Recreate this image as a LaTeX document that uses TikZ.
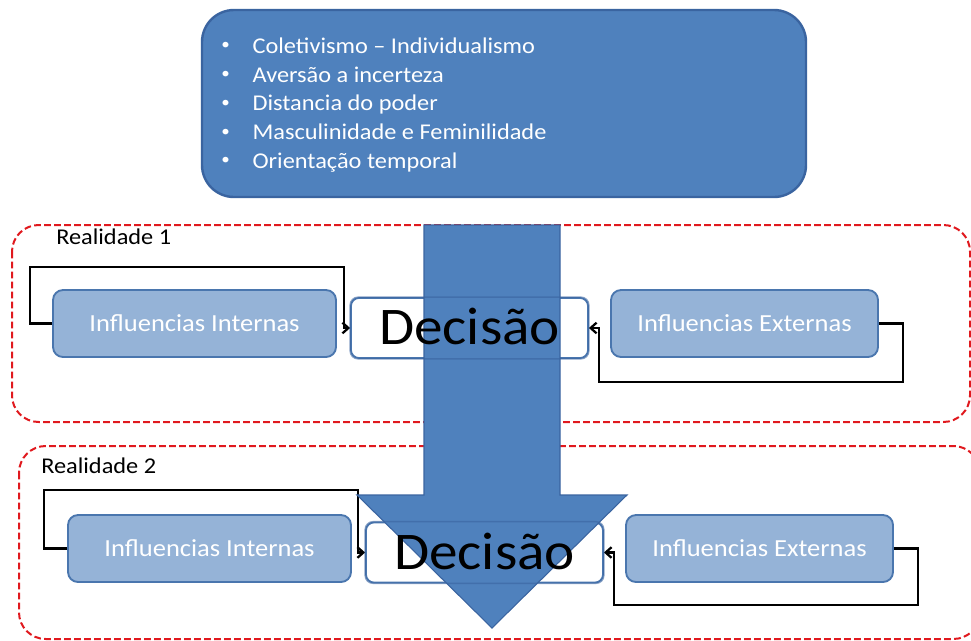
\documentclass[tikz,border=0pt]{standalone}
\usepackage{fontspec}
\setmainfont{Carlito}[FakeStretch=1.08]
\usetikzlibrary{arrows.meta}
\definecolor{topblue}{HTML}{4F81BD}
\definecolor{topedge}{HTML}{3A64A0}
\definecolor{lightblue}{HTML}{95B3D7}
\definecolor{boxedge}{HTML}{4A76AE}
\definecolor{reddash}{HTML}{E0191E}
\newcommand{\mybul}{\makebox[23.5pt][l]{\raisebox{0.15em}{\scalebox{0.7}{•}}}}
\begin{document}
\begin{tikzpicture}[x=0.75pt,y=-0.75pt,
  realbox/.style={draw=reddash, line width=1.5pt, dash pattern=on 5pt off 2.5pt, rounded corners=20pt},
  infbox/.style={draw=boxedge, fill=lightblue, line width=1.4pt, rounded corners=7.5pt,
     minimum height=50.25pt, text=white, font=\fontsize{18.4pt}{22pt}\selectfont, inner sep=0pt},
  decbox/.style={draw=boxedge, fill=white, line width=1.3pt, rounded corners=6pt,
     minimum width=177.75pt, minimum height=45pt, inner sep=0pt},
  dectext/.style={font=\fontsize{39.7pt}{44pt}\selectfont, text=black, inner sep=0pt},
  loop/.style={draw=black, line width=1.7pt, -{Straight Barb[length=4.5pt,width=8pt]}},
  bigarrow/.style={fill=topblue, draw=topedge, line width=0.8pt},
  bullet/.style={anchor=base west, text=white, inner sep=0pt, font=\fontsize{16.9pt}{20pt}\selectfont},
  reallabel/.style={anchor=base west, inner sep=0pt, font=\fontsize{16.9pt}{20pt}\selectfont}
]
\useasboundingbox (0,0) rectangle (971,640);

% realities frames
\draw[realbox] (12,225) rectangle (970,422);
\draw[realbox] (19,446) rectangle (980,639);
\node[reallabel] (r1) at (56,244) {Realidade 1};
\node[reallabel] (r2) at (41,473) {Realidade 2};

% top box
\node[draw=topedge, fill=topblue, line width=1.8pt, rounded corners=24pt,
      minimum width=453pt, minimum height=140.25pt] (top) at (504,103.5) {};
\node[bullet] (b1) at (221,53) {\mybul Coletivismo – Individualismo};
\node[bullet] (b2) at (221,82) {\mybul Aversão a incerteza};
\node[bullet] (b3) at (221,110.5) {\mybul Distancia do poder};
\node[bullet] (b4) at (221,139.5) {\mybul Masculinidade e Feminilidade};
\node[bullet] (b5) at (221,168) {\mybul Orientação temporal};

% reality 1
\node[infbox, minimum width=212.25pt] (int1) at (194.5,323.5) {Influencias Internas};
\node[decbox] (dec1) at (469.5,328) {};
\node[infbox, minimum width=200.25pt] (ext1) at (744.5,323.5) {Influencias Externas};
\coordinate (i1a) at (30,267);
\coordinate (i1b) at (344,267);
\coordinate (e1a) at (903,382);
\coordinate (e1b) at (599,382);
\draw[loop] (int1.west) -| (i1a) -- (i1b) |- (dec1.west);
\draw[loop] (ext1.east) -| (e1a) -- (e1b) |- (dec1.east);

% reality 2
\node[infbox, minimum width=212.25pt] (int2) at (209.5,548.5) {Influencias Internas};
\node[decbox] (dec2) at (484.5,552.5) {};
\node[infbox, minimum width=200.25pt] (ext2) at (759.5,548.5) {Influencias Externas};
\coordinate (i2a) at (44,490);
\coordinate (i2b) at (358,490);
\coordinate (e2a) at (918,605);
\coordinate (e2b) at (614,605);
\draw[loop] (int2.west) -| (i2a) -- (i2b) |- (dec2.west);
\draw[loop] (ext2.east) -| (e2a) -- (e2b) |- (dec2.east);

% big arrow
\draw[bigarrow] (424,225) -- (560,225) -- (560,495) -- (627,495) -- (492,628)
   -- (357,495) -- (424,495) -- cycle;

% decision outlines showing through and texts
\draw[draw=topedge, draw opacity=0.6, line width=1.1pt, rounded corners=6pt]
   (dec1.south west) rectangle (dec1.north east);
\draw[draw=topedge, draw opacity=0.6, line width=1.1pt, rounded corners=6pt]
   (dec2.south west) rectangle (dec2.north east);
\node[dectext] (d1) at (469.5,326) {Decisão};
\node[dectext] (d2) at (484.5,551) {Decisão};
\end{tikzpicture}
\end{document}
